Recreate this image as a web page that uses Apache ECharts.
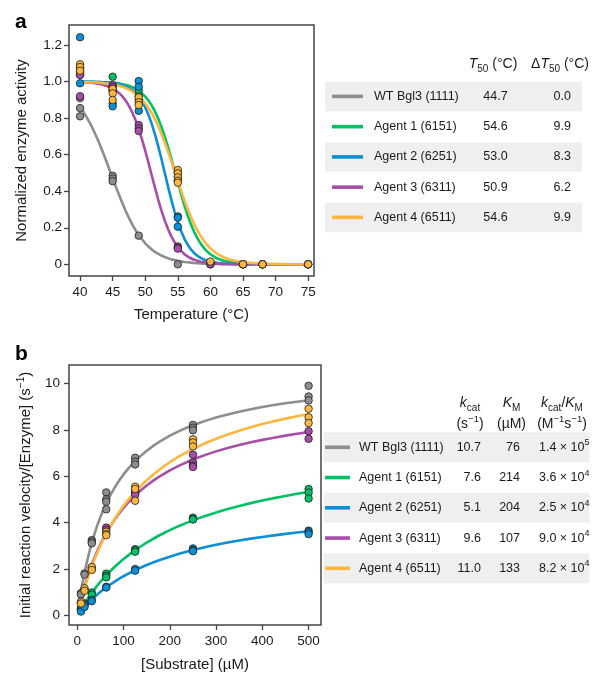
<!DOCTYPE html>
<html><head><meta charset="utf-8">
<script src="https://cdn.jsdelivr.net/npm/echarts@6/dist/echarts.min.js"></script>
<style>html,body{margin:0;padding:0;background:#fff}#c{width:607px;height:681px}</style>
</head><body><div id="c"></div>
<script>
// ---------- data ----------
const seriesNames = ['WT Bgl3 (1111)', 'Agent 1 (6151)', 'Agent 2 (6251)', 'Agent 3 (6311)', 'Agent 4 (6511)'];

// Panel a: thermostability
const xTicksA = [40, 45, 50, 55, 60, 65, 70, 75];
const yTicksA = [0, 0.2, 0.4, 0.6, 0.8, 1.0, 1.2];
const wtPtsA  = [[40,0.91],[40,0.855],[40,0.81],[45,0.485],[45,0.47],[45,0.455],[49,0.157],[55,0.0],[60,0.0],[65,0],[68,0],[75,0]];
const ag1PtsA = [[40,1.07],[40,1.05],[40,1.04],[45,1.027],[45,0.97],[45,0.95],[49,0.95],[49,0.92],[49,0.90],[55,0.50],[55,0.48],[55,0.46],[60,0.01],[65,0],[68,0],[75,0]];
const ag2PtsA = [[40,1.243],[40,1.076],[40,0.991],[45,0.96],[45,0.88],[45,0.865],[49,1.003],[49,0.972],[49,0.84],[55,0.262],[55,0.255],[55,0.206],[60,0.005],[65,0],[68,0],[75,0]];
const ag3PtsA = [[40,1.055],[40,1.036],[40,0.92],[45,0.981],[45,0.97],[45,0.95],[49,0.762],[49,0.744],[49,0.73],[55,0.098],[55,0.09],[55,0.086],[60,0],[65,0],[68,0],[75,0]];
const ag4PtsA = [[40,1.095],[40,1.08],[40,1.06],[45,0.96],[45,0.936],[45,0.90],[49,0.914],[49,0.887],[49,0.872],[55,0.516],[55,0.498],[55,0.476],[55,0.458],[55,0.447],[60,0.015],[65,0],[68,0],[75,0]];
const curveTempA = [40,40.5,41,41.5,42,42.5,43,43.5,44,44.5,45,45.5,46,46.5,47,47.5,48,48.5,49,49.5,50,50.5,51,51.5,52,52.5,53,53.5,54,54.5,55,55.5,56,56.5,57,57.5,58,58.5,59,59.5,60,61,62,63,65,68,72,75];
const wtCurveA  = [0.863,0.836,0.806,0.774,0.738,0.700,0.658,0.614,0.567,0.519,0.471,0.424,0.378,0.334,0.292,0.254,0.219,0.188,0.161,0.137,0.115,0.097,0.081,0.068,0.057,0.048,0.040,0.033,0.027,0.023,0.019,0.016,0.013,0.011,0.009,0.007,0.006,0.005,0.004,0.003,0.003,0.002,0.001,0.001,0,0,0,0];
const ag1CurveA = [1.0,1.0,0.999,0.999,0.999,0.998,0.998,0.997,0.996,0.995,0.994,0.992,0.989,0.986,0.982,0.977,0.970,0.961,0.950,0.936,0.918,0.896,0.870,0.836,0.797,0.751,0.699,0.641,0.578,0.513,0.448,0.384,0.324,0.269,0.220,0.178,0.143,0.113,0.090,0.070,0.055,0.033,0.020,0.012,0.004,0.001,0,0];
const ag2CurveA = [1.0,1.0,0.999,0.999,0.999,0.998,0.998,0.997,0.996,0.994,0.992,0.989,0.986,0.981,0.974,0.965,0.953,0.938,0.918,0.892,0.859,0.818,0.769,0.711,0.646,0.575,0.5,0.425,0.354,0.289,0.231,0.182,0.141,0.108,0.082,0.062,0.047,0.035,0.026,0.020,0.015,0.008,0.0045,0.0024,0.0007,0,0,0];
const ag3CurveA = [0.998,0.997,0.996,0.995,0.993,0.990,0.987,0.983,0.978,0.971,0.963,0.952,0.937,0.919,0.896,0.867,0.832,0.790,0.740,0.684,0.622,0.555,0.486,0.418,0.353,0.293,0.239,0.193,0.153,0.121,0.094,0.073,0.056,0.043,0.033,0.025,0.019,0.014,0.011,0.008,0.0065,0.0038,0.0022,0.0013,0.0004,0,0,0];
const ag4CurveA = [0.998,0.998,0.997,0.997,0.996,0.995,0.994,0.992,0.990,0.988,0.985,0.981,0.977,0.972,0.965,0.957,0.946,0.934,0.919,0.901,0.881,0.856,0.827,0.794,0.756,0.713,0.667,0.617,0.565,0.511,0.457,0.404,0.352,0.304,0.260,0.221,0.186,0.156,0.129,0.106,0.087,0.058,0.039,0.025,0.011,0.003,0.0005,0];
const t50Vals  = [44.7, 54.6, 53.0, 50.9, 54.6];
const dT50Vals = [0.0, 9.9, 8.3, 6.2, 9.9];

// Panel b: kinetics
const xTicksB = [0, 100, 200, 300, 400, 500];
const yTicksB = [0, 2, 4, 6, 8, 10];
const wtPtsB  = [[7.8,0.95],[7.8,0.89],[15.6,1.8],[15.6,1.75],[31.25,3.24],[31.25,3.17],[31.25,3.1],[62.5,5.3],[62.5,5.0],[62.5,4.9],[62.5,4.57],[125,6.8],[125,6.63],[125,6.51],[250,8.22],[250,8.1],[250,7.99],[500,9.91],[500,9.45],[500,9.28]];
const ag1PtsB = [[7.8,0.3],[7.8,0.25],[15.6,0.5],[15.6,0.45],[31.25,0.97],[31.25,0.88],[62.5,1.79],[62.5,1.7],[62.5,1.63],[125,2.85],[125,2.8],[125,2.74],[250,4.21],[250,4.17],[250,4.13],[500,5.45],[500,5.3],[500,5.04]];
const ag2PtsB = [[7.8,0.22],[7.8,0.15],[15.6,0.45],[15.6,0.35],[31.25,0.65],[31.25,0.6],[62.5,1.22],[62.5,1.19],[125,1.99],[125,1.92],[250,2.88],[250,2.81],[250,2.76],[500,3.65],[500,3.58],[500,3.5]];
const ag3PtsB = [[7.8,0.55],[15.6,1.1],[31.25,2.05],[31.25,2.0],[62.5,3.78],[62.5,3.68],[125,5.35],[125,5.28],[125,5.2],[250,6.93],[250,6.6],[250,6.47],[250,6.4],[500,7.95],[500,7.62]];
const ag4PtsB = [[7.8,0.58],[7.8,0.5],[15.6,1.16],[15.6,1.05],[31.25,2.08],[31.25,1.95],[62.5,3.6],[62.5,3.5],[62.5,3.45],[125,5.55],[125,5.45],[125,4.94],[250,7.6],[250,7.46],[250,7.29],[500,8.92],[500,8.55],[500,8.3]];
const curveSubB = [7.8,10,12.5,15,17.5,20,25,30,35,40,45,50,55,60,70,80,90,100,110,120,130,140,150,165,180,200,220,240,260,280,300,325,350,375,400,425,450,475,500];
const wtCurveB  = [0.996,1.244,1.511,1.764,2.003,2.229,2.649,3.028,3.374,3.690,3.979,4.246,4.492,4.721,5.130,5.487,5.801,6.080,6.328,6.551,6.752,6.935,7.102,7.326,7.523,7.754,7.953,8.127,8.280,8.416,8.537,8.672,8.791,8.897,8.992,9.077,9.154,9.224,9.288];
const ag1CurveB = [0.267,0.339,0.419,0.498,0.575,0.650,0.795,0.934,1.068,1.197,1.320,1.439,1.554,1.664,1.873,2.068,2.250,2.420,2.580,2.731,2.872,3.006,3.132,3.309,3.472,3.671,3.853,4.018,4.169,4.308,4.436,4.583,4.716,4.839,4.951,5.055,5.151,5.240,5.322];
const ag2CurveB = [0.188,0.238,0.294,0.349,0.403,0.455,0.557,0.654,0.747,0.836,0.922,1.004,1.083,1.159,1.303,1.437,1.561,1.678,1.787,1.889,1.985,2.076,2.161,2.280,2.391,2.525,2.646,2.757,2.858,2.950,3.036,3.133,3.222,3.303,3.377,3.446,3.509,3.568,3.622];
const ag3CurveB = [0.652,0.821,1.004,1.180,1.349,1.512,1.818,2.102,2.366,2.612,2.842,3.057,3.259,3.449,3.797,4.107,4.386,4.638,4.866,5.075,5.266,5.441,5.603,5.824,6.021,6.254,6.459,6.640,6.801,6.946,7.076,7.222,7.352,7.469,7.574,7.669,7.756,7.835,7.908];
const ag4CurveB = [0.609,0.769,0.945,1.115,1.279,1.438,1.741,2.025,2.292,2.543,2.781,3.005,3.218,3.420,3.793,4.131,4.439,4.721,4.979,5.217,5.437,5.641,5.830,6.091,6.326,6.607,6.856,7.078,7.277,7.458,7.621,7.806,7.971,8.120,8.255,8.378,8.491,8.594,8.689];
const kcatVals = [10.7, 7.6, 5.1, 9.6, 11.0];
const kmVals   = [76, 214, 204, 107, 133];
const effMant  = [1.4, 3.6, 2.5, 9.0, 8.2];
const effExp   = [5, 4, 4, 4, 4];

// ---------- styling ----------
const FONT = 'Liberation Sans, Arial, Helvetica, sans-serif';
const colors = ['#8e8e8e', '#00c165', '#0b8fd6', '#a64ea8', '#fdb73e'];
const axisCol = '#444444';
const txtCol = '#1a1a1a';

const ptsA = [wtPtsA, ag1PtsA, ag2PtsA, ag3PtsA, ag4PtsA];
const curvesA = [wtCurveA, ag1CurveA, ag2CurveA, ag3CurveA, ag4CurveA];
const ptsB = [wtPtsB, ag1PtsB, ag2PtsB, ag3PtsB, ag4PtsB];
const curvesB = [wtCurveB, ag1CurveB, ag2CurveB, ag3CurveB, ag4CurveB];

const series = [];
[[curvesA, curveTempA, 0], [curvesB, curveSubB, 1]].forEach(([curves, xs, gi]) => {
  curves.forEach((c, i) => {
    series.push({
      type: 'line', xAxisIndex: gi, yAxisIndex: gi, name: seriesNames[i],
      data: xs.map((x, j) => [x, c[j]]), showSymbol: false, smooth: false,
      lineStyle: { color: colors[i], width: 2.6, join: 'round', cap: 'round' }, z: 2, silent: true
    });
  });
});
[[ptsA, 0], [ptsB, 1]].forEach(([pts, gi]) => {
  pts.forEach((p, i) => {
    series.push({
      type: 'scatter', xAxisIndex: gi, yAxisIndex: gi, name: seriesNames[i],
      data: p, symbolSize: 7.5,
      itemStyle: { color: colors[i], borderColor: '#1e1e1e', borderWidth: 0.8, opacity: 1 }, z: 3, silent: true
    });
  });
});

function valAxis(gi, min, max, ticks, fmt, margin, name, nameGap) {
  return {
    type: 'value', gridIndex: gi, min: min, max: max,
    axisLine: { show: false, onZero: false }, splitLine: { show: false },
    axisTick: { show: true, inside: false, customValues: ticks, length: 5, lineStyle: { color: axisCol, width: 1.3 } },
    axisLabel: { customValues: ticks, formatter: fmt, margin: margin, fontSize: 13.5, color: txtCol, fontFamily: FONT },
    name: name, nameLocation: 'middle', nameGap: nameGap, nameMoveOverlap: false,
    nameTextStyle: { fontSize: 15, color: txtCol, fontFamily: FONT, lineHeight: 20,
      rich: { sup: { fontSize: 10, verticalAlign: 'top', lineHeight: 10, color: txtCol, fontFamily: FONT } } }
  };
}

// ---------- tables (graphic) ----------
const g = [];
function txt(x, y, text, opts) {
  g.push({ type: 'text', silent: true, style: Object.assign({ x: x, y: y, text: text, fill: txtCol,
    fontSize: 12.5, fontFamily: FONT, textAlign: 'left', textVerticalAlign: 'middle' }, opts || {}) });
}
const richHdr = {
  i: { fontStyle: 'italic', fontSize: 14, fontFamily: FONT, fill: txtCol, lineHeight: 20 },
  n: { fontSize: 14, fontFamily: FONT, fill: txtCol, lineHeight: 20 },
  sub: { fontSize: 10, fontFamily: FONT, fill: txtCol, verticalAlign: 'bottom', lineHeight: 12 },
  sup: { fontSize: 9.5, fontFamily: FONT, fill: txtCol, verticalAlign: 'top', lineHeight: 10 }
};
const richCell = {
  n: { fontSize: 12.5, fontFamily: FONT, fill: txtCol, lineHeight: 18 },
  sup: { fontSize: 9, fontFamily: FONT, fill: txtCol, verticalAlign: 'top', lineHeight: 9 }
};
// panel letters
txt(15, 22, 'a', { fontSize: 21, fontWeight: 'bold', fill: '#000' });
txt(15, 354, 'b', { fontSize: 21, fontWeight: 'bold', fill: '#000' });

// table a
txt(493, 64, '{i|T}{sub|50}{n| (°C)}', { textAlign: 'center', rich: richHdr });
txt(560, 64, '{n|Δ}{i|T}{sub|50}{n| (°C)}', { textAlign: 'center', rich: richHdr });
seriesNames.forEach((nm, i) => {
  const cy = 96.4 + i * 30.25;
  if (i % 2 === 0) g.push({ type: 'rect', silent: true, z: -1, shape: { x: 325, y: cy - 14.7, width: 257, height: 29.5 }, style: { fill: '#efefef' } });
  g.push({ type: 'line', silent: true, shape: { x1: 332, y1: cy, x2: 363, y2: cy }, style: { stroke: colors[i], lineWidth: 3.6 } });
  txt(374, cy, nm);
  txt(495.5, cy, t50Vals[i].toFixed(1), { textAlign: 'center' });
  txt(571, cy, dT50Vals[i].toFixed(1), { textAlign: 'right' });
});

// table b
txt(470, 403, '{i|k}{sub|cat}', { textAlign: 'center', rich: richHdr });
txt(470, 424, '{n|(s}{sup|−1}{n|)}', { textAlign: 'center', rich: richHdr });
txt(511.5, 403, '{i|K}{sub|M}', { textAlign: 'center', rich: richHdr });
txt(511.5, 424, '{n|(µM)}', { textAlign: 'center', rich: richHdr });
txt(562, 403, '{i|k}{sub|cat}{n|/}{i|K}{sub|M}', { textAlign: 'center', rich: richHdr });
txt(562, 424, '{n|(M}{sup|−1}{n|s}{sup|−1}{n|)}', { textAlign: 'center', rich: richHdr });
seriesNames.forEach((nm, i) => {
  const cy = 447.3 + i * 30.25;
  if (i % 2 === 0) g.push({ type: 'rect', silent: true, z: -1, shape: { x: 323.5, y: cy - 15, width: 266, height: 30 }, style: { fill: '#efefef' } });
  g.push({ type: 'line', silent: true, shape: { x1: 325, y1: cy, x2: 350, y2: cy }, style: { stroke: colors[i], lineWidth: 3.6 } });
  txt(359, cy, nm);
  txt(481, cy, kcatVals[i].toFixed(1), { textAlign: 'right' });
  txt(520, cy, String(kmVals[i]), { textAlign: 'right' });
  txt(539, cy, '{n|' + effMant[i].toFixed(1) + ' × 10}{sup|' + effExp[i] + '}', { rich: richCell });
});

const fmtA = v => (v === 0 ? '0' : v.toFixed(1));
const fmtB = v => String(v);

const option = {
  backgroundColor: '#fff',
  animation: false,
  textStyle: { fontFamily: FONT },
  grid: [
    { left: 69, top: 25, width: 245, height: 251, show: true, borderColor: axisCol, borderWidth: 1.5, backgroundColor: 'transparent', containLabel: false, outerBoundsMode: 'none' },
    { left: 69, top: 365, width: 252, height: 260, show: true, borderColor: axisCol, borderWidth: 1.5, backgroundColor: 'transparent', containLabel: false, outerBoundsMode: 'none' }
  ],
  xAxis: [
    valAxis(0, 38.3, 75.9, xTicksA, fmtB, 9, 'Temperature (°C)', 29),
    valAxis(1, -18, 526.8, xTicksB, fmtB, 9, '[Substrate] (µM)', 30)
  ],
  yAxis: [
    valAxis(0, -0.064, 1.31, yTicksA, fmtA, 7, 'Normalized enzyme activity', 37),
    valAxis(1, -0.43, 10.81, yTicksB, fmtB, 9, 'Initial reaction velocity/[Enzyme] (s{sup|−1})', 33)
  ],
  graphic: g,
  series: series
};
const chart = echarts.init(document.getElementById('c'), null, { renderer: 'canvas' });
chart.setOption(option);
</script>
</body></html>
